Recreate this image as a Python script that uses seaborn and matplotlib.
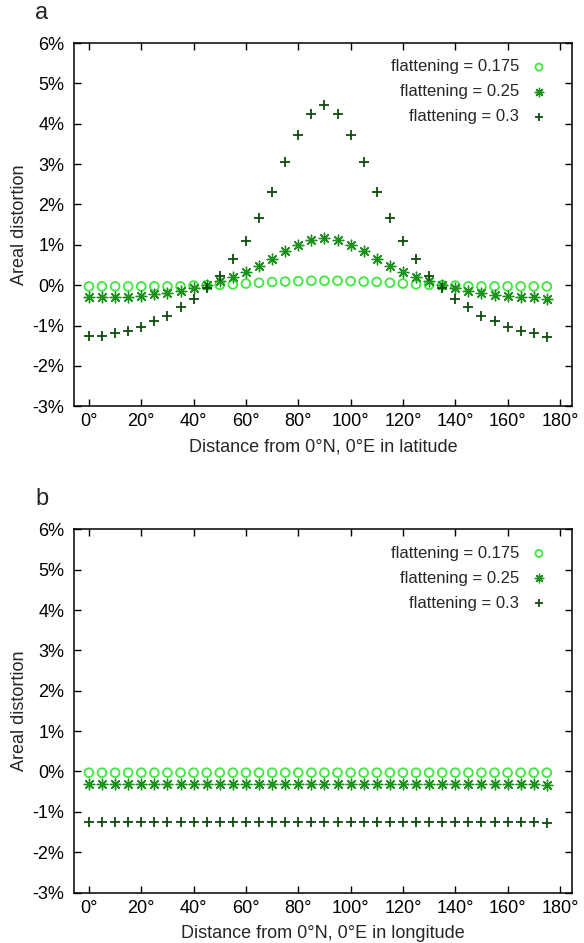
import matplotlib
matplotlib.use("Agg")
import matplotlib.pyplot as plt
import seaborn as sns
import pandas as pd

# ---------------- data ----------------
distance_deg = [0, 5, 10, 15, 20, 25, 30, 35, 40, 45, 50, 55, 60, 65, 70, 75, 80, 85,
                90, 95, 100, 105, 110, 115, 120, 125, 130, 135, 140, 145, 150, 155, 160, 165, 170, 175]

series_labels = ["flattening = 0.175", "flattening = 0.25", "flattening = 0.3"]

# panel a: along latitude (areal distortion in %)
lat_f0175 = [-0.03, -0.03, -0.03, -0.03, -0.03, -0.03, -0.03, -0.03, -0.01, 0.00, 0.01, 0.02,
             0.04, 0.06, 0.08, 0.09, 0.10, 0.11, 0.11, 0.11, 0.10, 0.09, 0.08, 0.06,
             0.04, 0.02, 0.01, 0.00, -0.01, -0.03, -0.03, -0.03, -0.03, -0.03, -0.03, -0.03]
lat_f025 = [-0.30, -0.30, -0.30, -0.29, -0.27, -0.23, -0.20, -0.15, -0.08, 0.01, 0.10, 0.21,
            0.33, 0.48, 0.64, 0.85, 1.00, 1.12, 1.17, 1.12, 1.00, 0.85, 0.64, 0.48,
            0.33, 0.21, 0.10, 0.01, -0.08, -0.15, -0.20, -0.25, -0.27, -0.29, -0.30, -0.34]
lat_f03 = [-1.25, -1.25, -1.19, -1.13, -1.04, -0.89, -0.76, -0.55, -0.34, -0.07, 0.24, 0.64,
           1.09, 1.66, 2.31, 3.05, 3.72, 4.24, 4.46, 4.24, 3.72, 3.05, 2.31, 1.66,
           1.09, 0.64, 0.24, -0.07, -0.34, -0.55, -0.76, -0.89, -1.04, -1.13, -1.19, -1.28]

# panel b: along longitude
lon_f0175 = [-0.03, -0.03, -0.03, -0.03, -0.03, -0.03, -0.03, -0.03, -0.03, -0.03, -0.03, -0.03,
             -0.03, -0.03, -0.03, -0.03, -0.03, -0.03, -0.03, -0.03, -0.03, -0.03, -0.03, -0.03,
             -0.03, -0.03, -0.03, -0.03, -0.03, -0.03, -0.03, -0.03, -0.03, -0.03, -0.03, -0.03]
lon_f025 = [-0.30, -0.30, -0.30, -0.30, -0.30, -0.30, -0.30, -0.30, -0.30, -0.30, -0.30, -0.30,
            -0.30, -0.30, -0.30, -0.30, -0.30, -0.30, -0.30, -0.30, -0.30, -0.30, -0.30, -0.30,
            -0.30, -0.30, -0.30, -0.30, -0.30, -0.30, -0.30, -0.30, -0.30, -0.30, -0.30, -0.33]
lon_f03 = [-1.25, -1.25, -1.25, -1.25, -1.25, -1.25, -1.25, -1.25, -1.25, -1.25, -1.25, -1.25,
           -1.25, -1.25, -1.25, -1.25, -1.25, -1.25, -1.25, -1.25, -1.25, -1.25, -1.25, -1.25,
           -1.25, -1.25, -1.25, -1.25, -1.25, -1.25, -1.25, -1.25, -1.25, -1.25, -1.25, -1.28]

x_ticks = [0, 20, 40, 60, 80, 100, 120, 140, 160, 180]
x_tick_labels = ["0°", "20°", "40°", "60°", "80°", "100°", "120°", "140°", "160°", "180°"]
y_ticks = [-3, -2, -1, 0, 1, 2, 3, 4, 5, 6]
y_tick_labels = ["-3%", "-2%", "-1%", "0%", "1%", "2%", "3%", "4%", "5%", "6%"]

panel_letters = ["a", "b"]
x_titles = ["Distance from 0°N, 0°E in latitude", "Distance from 0°N, 0°E in longitude"]
y_title = "Areal distortion"

# ---------------- style ----------------
sns.set_theme(style="ticks")
plt.rcParams["font.family"] = ["Liberation Sans", "DejaVu Sans"]

colors = ["#3ee83e", "#1f911f", "#0d4d0d"]
markers = ["o", (8, 2, 0), "+"]
sizes = [40, 58, 52]
widths = [1.3, 1.0, 1.3]

W, H = 584, 943
fig = plt.figure(figsize=(W / 100, H / 100), dpi=100)

ax_left, ax_right = 74, 571.7
panel_tops = [43, 529.3]
panel_h = 363.3

panels = [
    (lat_f0175, lat_f025, lat_f03),
    (lon_f0175, lon_f025, lon_f03),
]

for pi, (top, vals) in enumerate(zip(panel_tops, panels)):
    ax = fig.add_axes([ax_left / W, 1 - (top + panel_h) / H,
                       (ax_right - ax_left) / W, panel_h / H])
    for si, (lab, v) in enumerate(zip(series_labels, vals)):
        df = pd.DataFrame({"distance": distance_deg, "distortion": v})
        sns.scatterplot(data=df, x="distance", y="distortion", ax=ax,
                        marker=markers[si], s=sizes[si], color=colors[si],
                        linewidth=widths[si], label=lab, zorder=3 + si)
        if si == 0:
            coll = ax.collections[-1]
            coll.set_facecolor("none")
            coll.set_edgecolor(colors[0])
            coll.set_linewidth(widths[0])

    ax.set_xlim(-5.7, 184.5)
    ax.set_ylim(-3, 6)
    ax.set_xticks(x_ticks)
    ax.set_xticklabels(x_tick_labels)
    ax.set_yticks(y_ticks)
    ax.set_yticklabels(y_tick_labels)
    ax.tick_params(direction="in", length=5, width=1, top=True, right=True,
                   labelsize=13, colors="black", pad=5)
    ax.tick_params(axis="y", pad=7)
    for sp in ax.spines.values():
        sp.set_visible(True)
        sp.set_linewidth(1.1)
        sp.set_color("black")
    ax.grid(False)

    ax.set_xlabel(x_titles[pi], fontsize=13, va="center")
    ax.xaxis.set_label_coords(0.5, -(447 - 406) / panel_h)
    ax.set_ylabel(y_title, fontsize=13, va="center", ha="center")
    ax.yaxis.set_label_coords(-(ax_left - 20) / (ax_right - ax_left), 0.5)

    leg = ax.legend(loc="upper right", bbox_to_anchor=(0.951, 0.9546),
                    frameon=False, markerfirst=False, fontsize=12,
                    handlelength=1.0, handletextpad=0.7, labelspacing=0.6,
                    borderpad=0, borderaxespad=0, markerscale=0.8)
    h0 = leg.legend_handles[0]
    h0.set_facecolor("none")
    h0.set_edgecolor(colors[0])

    fig.text(35 / W, 1 - (top - 24) / H, panel_letters[pi], fontsize=17,
             ha="left", va="baseline")

fig.savefig("out.png", dpi=100)
